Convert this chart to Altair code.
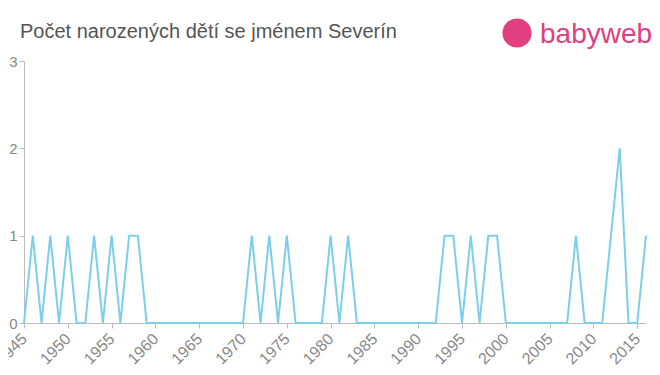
import altair as alt
import pandas as pd

years = list(range(1945, 2017))
counts = [
    0, 1, 0, 1, 0, 1, 0, 0, 1, 0,   # 1945-1954
    1, 0, 1, 1, 0, 0, 0, 0, 0, 0,   # 1955-1964
    0, 0, 0, 0, 0, 0, 1, 0, 1, 0,   # 1965-1974
    1, 0, 0, 0, 0, 1, 0, 1, 0, 0,   # 1975-1984
    0, 0, 0, 0, 0, 0, 0, 0, 1, 1,   # 1985-1994
    0, 1, 0, 1, 1, 0, 0, 0, 0, 0,   # 1995-2004
    0, 0, 0, 1, 0, 0, 0, 1, 2, 0,   # 2005-2014
    0, 1,                           # 2015-2016
]
x_ticks = list(range(1945, 2016, 5))
y_ticks = [0, 1, 2, 3]
title_text = "Počet narozených dětí se jménem Severín"
logo_text = "babyweb"

df = pd.DataFrame({"year": years, "count": counts})

line = alt.Chart(df).mark_line(color="#7ccfea", strokeWidth=2, clip=False).encode(
    x=alt.X("year:Q", scale=alt.Scale(domain=[1945, 2016], nice=False, zero=False),
            axis=alt.Axis(values=x_ticks, format="d", labelAngle=-45, labelAlign="right",
                          labelBaseline="middle", labelPadding=8, title=None, grid=False,
                          tickSize=5, labelFontSize=16, labelColor="#888888",
                          domainColor="#bdbdbd", tickColor="#bdbdbd", labelFont="Liberation Sans",
                          labelOverlap=False, labelFlush=False)),
    y=alt.Y("count:Q", scale=alt.Scale(domain=[0, 3], nice=False),
            axis=alt.Axis(values=y_ticks, format="d", title=None, grid=False, tickSize=5,
                          labelFontSize=15, labelColor="#888888", domainColor="#bdbdbd",
                          tickColor="#bdbdbd", labelFont="Liberation Sans", labelPadding=2)),
)

text_df = pd.DataFrame({"t": [title_text], "l": [logo_text]})
title_mark = alt.Chart(text_df).mark_text(color="#555555", fontSize=20, align="left",
                                          baseline="middle", font="Liberation Sans", clip=False).encode(
    x=alt.value(-4), y=alt.value(-29), text="t:N"
)
logo_circle = alt.Chart(text_df).mark_circle(color="#e0407f", size=850, opacity=1, clip=False).encode(
    x=alt.value(493), y=alt.value(-28)
)
logo_label = alt.Chart(text_df).mark_text(color="#e0407f", fontSize=28, align="left",
                                          baseline="middle", font="Liberation Sans", clip=False).encode(
    x=alt.value(516), y=alt.value(-26), text="l:N"
)

chart = alt.layer(line, title_mark, logo_circle, logo_label).properties(
    width=622, height=262,
    padding={"left": 16, "top": 53, "right": 6, "bottom": 44},
    autosize=alt.AutoSizeParams(type="none"),
).configure_view(stroke=None)

chart.save("out.html", embed_options={"renderer": "svg", "actions": False})
